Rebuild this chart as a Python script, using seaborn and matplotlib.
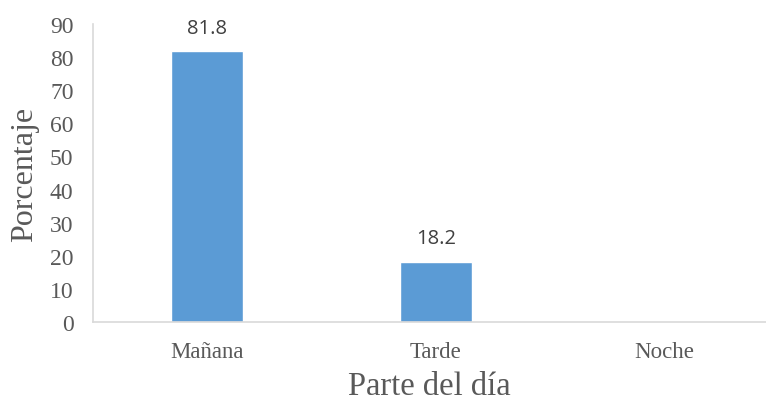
import matplotlib
matplotlib.use("Agg")
import matplotlib.pyplot as plt
import seaborn as sns
import pandas as pd

categorias = ["Mañana", "Tarde", "Noche"]
porcentajes = [81.8, 18.2, 0]
etiquetas = ["81.8", "18.2", ""]

df = pd.DataFrame({"parte": categorias, "pct": porcentajes})

sns.set_style("white")
plt.rcParams['font.family'] = ['Liberation Serif', 'DejaVu Serif']

fig = plt.figure(figsize=(7.66, 4.02), dpi=100)
# the original image is cropped on the right, so the axes run off the edge
ax = fig.add_axes([0.1214, 0.1965, 0.8786, 0.7413])

sns.barplot(data=df, x="parte", y="pct", color="#5B9BD5", width=0.313,
            saturation=1, ax=ax)

for bar, txt in zip(ax.patches, etiquetas):
    if txt:
        ax.text(bar.get_x() + bar.get_width() / 2, bar.get_height() + 4, txt,
                ha="center", va="bottom", fontsize=14.5, color="#404040",
                family=["Open Sans", "DejaVu Sans"])

ax.set_ylim(0, 90)
ax.set_yticks(range(0, 91, 10))
ax.set_xlim(-0.5, 2.445)
ax.tick_params(axis="both", length=0, labelcolor="#595959")
ax.tick_params(axis="y", labelsize=17, pad=14)
ax.tick_params(axis="x", labelsize=16.5, pad=14)
ax.set_xlabel("Parte del día", fontsize=23.5, color="#595959", labelpad=6)
ax.set_ylabel("Porcentaje", fontsize=23, color="#595959", labelpad=8)

sns.despine(ax=ax)
for s in ["left", "bottom"]:
    ax.spines[s].set_color("#d9d9d9")
    ax.spines[s].set_linewidth(1.2)

fig.savefig("out.png", dpi=100)
